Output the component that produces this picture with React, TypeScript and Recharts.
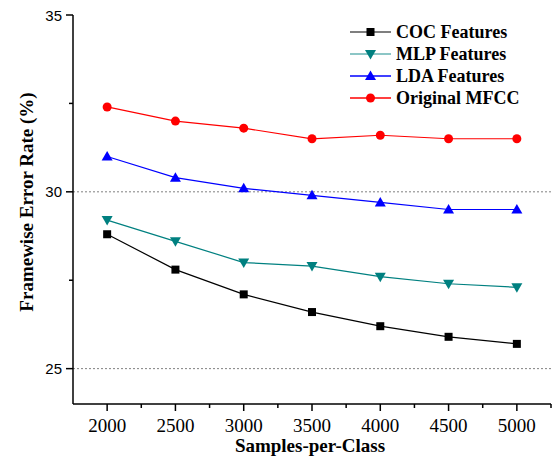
import React from "react";
import { LineChart, Line, XAxis, YAxis, ReferenceLine, Legend } from "recharts";

const samples = [2000, 2500, 3000, 3500, 4000, 4500, 5000];
const cocFeatures = [28.8, 27.8, 27.1, 26.6, 26.2, 25.9, 25.7];
const mlpFeatures = [29.2, 28.6, 28.0, 27.9, 27.6, 27.4, 27.3];
const ldaFeatures = [31.0, 30.4, 30.1, 29.9, 29.7, 29.5, 29.5];
const originalMfcc = [32.4, 32.0, 31.8, 31.5, 31.6, 31.5, 31.5];

const xTicks = [2000, 2250, 2500, 2750, 3000, 3250, 3500, 3750, 4000, 4250, 4500, 4750, 5000, 5250];
const yTicks = [25, 27.5, 30, 32.5, 35];

const SERIES = [
  { key: "coc", name: "COC Features", color: "#000000", legendLine: "#555555", shape: "square" },
  { key: "mlp", name: "MLP Features", color: "#008080", legendLine: "#66b3b3", shape: "down" },
  { key: "lda", name: "LDA Features", color: "#0000ff", legendLine: "#0000ff", shape: "up" },
  { key: "mfcc", name: "Original MFCC", color: "#ff0000", legendLine: "#ff0000", shape: "circle" },
];

const data = samples.map((s, i) => ({
  samples: s,
  coc: cocFeatures[i],
  mlp: mlpFeatures[i],
  lda: ldaFeatures[i],
  mfcc: originalMfcc[i],
}));

const SERIF = "'Liberation Serif', 'Times New Roman', serif";
const SANS = "'Liberation Sans', Arial, sans-serif";

function marker(shape: string, cx: number, cy: number, color: string, key?: any) {
  if (shape === "square") return <rect key={key} x={cx - 4} y={cy - 4} width={8} height={8} fill={color} />;
  if (shape === "up")
    return <polygon key={key} points={`${cx},${cy - 5.5} ${cx - 5.5},${cy + 4} ${cx + 5.5},${cy + 4}`} fill={color} />;
  if (shape === "down")
    return <polygon key={key} points={`${cx},${cy + 5.5} ${cx - 5.5},${cy - 4} ${cx + 5.5},${cy - 4}`} fill={color} />;
  return <circle key={key} cx={cx} cy={cy} r={4.5} fill={color} />;
}

const XTick = (props: any) => {
  const { x, y, payload } = props;
  const major = payload.value % 500 === 0;
  return (
    <g>
      <line x1={x} x2={x} y1={y} y2={y + (major ? 7 : 4)} stroke="#000" strokeWidth={1.5} />
      {major && (
        <text x={x} y={y + 28} textAnchor="middle" fontFamily={SERIF} fontSize={19} fill="#000">
          {payload.value}
        </text>
      )}
    </g>
  );
};

const YTick = (props: any) => {
  const { x, y, payload } = props;
  const major = payload.value % 5 === 0;
  return (
    <g>
      <line x1={x - (major ? 7 : 4)} x2={x} y1={y} y2={y} stroke="#000" strokeWidth={1.5} />
      {major && (
        <text x={x - 11} y={y + 5.5} textAnchor="end" fontFamily={SANS} fontSize={15} fill="#000">
          {payload.value}
        </text>
      )}
    </g>
  );
};

const renderLegend = () => (
  <div>
    {SERIES.map((s) => (
      <div key={s.key} style={{ display: "flex", alignItems: "center", height: 22 }}>
        <svg width={46} height={22}>
          <line x1={0} x2={41} y1={11} y2={11} stroke={s.legendLine} strokeWidth={1.5} />
          {marker(s.shape, 20.5, 11, s.color)}
        </svg>
        <span style={{ fontFamily: SERIF, fontWeight: "bold", fontSize: 18, color: "#000", lineHeight: "22px" }}>
          {s.name}
        </span>
      </div>
    ))}
  </div>
);

export default function App() {
  return (
    <div style={{ position: "absolute", left: 0, top: 0, width: 553, height: 461, background: "#fff" }}>
      <LineChart width={553} height={461} data={data} margin={{ top: 15, right: 2, left: 0, bottom: 0 }}>
        <XAxis
          dataKey="samples"
          type="number"
          domain={[1750, 5250]}
          ticks={xTicks}
          interval={0}
          height={57}
          tickLine={false}
          tickSize={0}
          tickMargin={0}
          tick={<XTick />}
          axisLine={{ stroke: "#000", strokeWidth: 1.5 }}
          label={() => (
            <text x={310} y={452} textAnchor="middle" fontFamily={SERIF} fontWeight="bold" fontSize={19} fill="#000">
              Samples-per-Class
            </text>
          )}
        />
        <YAxis
          type="number"
          domain={[24, 35]}
          ticks={yTicks}
          interval={0}
          width={73}
          tickLine={false}
          tickSize={0}
          tickMargin={0}
          tick={<YTick />}
          axisLine={{ stroke: "#000", strokeWidth: 1.5 }}
          label={() => (
            <text
              x={33}
              y={202}
              transform="rotate(-90, 33, 202)"
              textAnchor="middle"
              fontFamily={SERIF}
              fontWeight="bold"
              fontSize={19}
              fill="#000"
            >
              Framewise Error Rate (%)
            </text>
          )}
        />
        <ReferenceLine y={30} stroke="#808080" strokeDasharray="2 2" />
        <ReferenceLine y={25} stroke="#808080" strokeDasharray="2 2" />
        {SERIES.map((s) => (
          <Line
            key={s.key}
            dataKey={s.key}
            name={s.name}
            stroke={s.color}
            strokeWidth={1.2}
            isAnimationActive={false}
            dot={(p: any) => marker(s.shape, p.cx, p.cy, s.color, `${s.key}-${p.index}`)}
            activeDot={false}
          />
        ))}
        <Legend
          layout="vertical"
          align="center"
          verticalAlign="middle"
          content={renderLegend}
          wrapperStyle={{ position: "absolute", left: 350, top: 21, width: 200, height: 88 }}
        />
      </LineChart>
    </div>
  );
}
